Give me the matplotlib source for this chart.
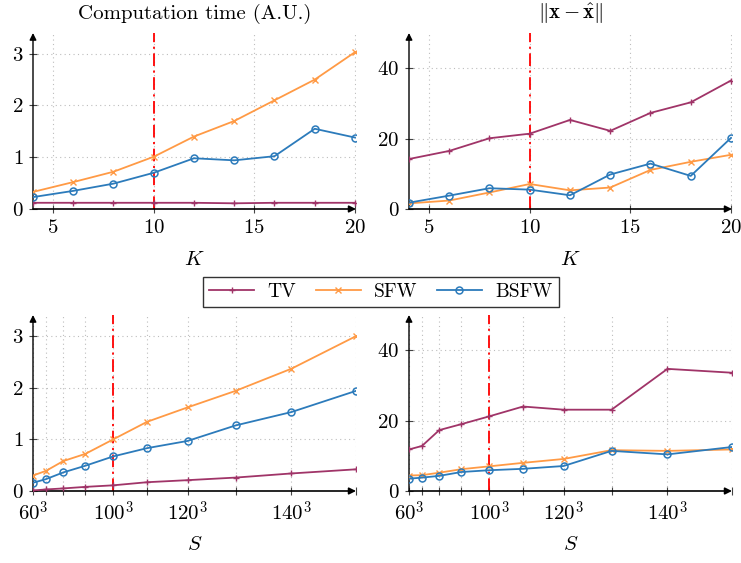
import numpy as np
import matplotlib
matplotlib.use("Agg")
import matplotlib.pyplot as plt

plt.rcParams["font.family"] = "serif"
plt.rcParams["font.serif"] = ["cmr10", "DejaVu Serif"]
plt.rcParams["mathtext.fontset"] = "cm"
plt.rcParams["axes.unicode_minus"] = False
plt.rcParams["axes.formatter.use_mathtext"] = True

# data
K = [4, 6, 8, 10, 12, 14, 16, 18, 20]
time_K_tv = [0.12, 0.12, 0.12, 0.12, 0.12, 0.11, 0.12, 0.12, 0.12]
time_K_sfw = [0.33, 0.52, 0.72, 1.01, 1.40, 1.70, 2.10, 2.50, 3.03]
time_K_bsfw = [0.23, 0.35, 0.49, 0.70, 0.98, 0.94, 1.02, 1.55, 1.38]
err_K_tv = [14.2, 16.5, 20.1, 21.4, 25.3, 22.2, 27.3, 30.3, 36.5]
err_K_sfw = [1.6, 2.4, 4.7, 7.1, 5.3, 6.1, 11.1, 13.4, 15.4]
err_K_bsfw = [1.8, 3.8, 5.9, 5.5, 3.9, 9.8, 12.9, 9.4, 20.2]

n_side = [60, 70, 80, 90, 100, 110, 120, 130, 140, 150]
time_S_tv = [0.01, 0.03, 0.05, 0.08, 0.11, 0.17, 0.21, 0.26, 0.34, 0.42]
time_S_sfw = [0.30, 0.39, 0.58, 0.72, 1.00, 1.34, 1.62, 1.94, 2.37, 3.00]
time_S_bsfw = [0.16, 0.23, 0.36, 0.49, 0.67, 0.83, 0.97, 1.27, 1.53, 1.94]
err_S_tv = [11.8, 12.8, 17.3, 19.0, 21.2, 24.0, 23.1, 23.1, 34.7, 33.6]
err_S_sfw = [4.4, 4.5, 5.2, 6.2, 7.0, 8.0, 9.1, 11.6, 11.4, 11.8]
err_S_bsfw = [3.5, 3.8, 4.3, 5.4, 5.9, 6.3, 7.1, 11.4, 10.4, 12.5]
S_labeled = [60, 100, 120, 140]

K_mark = 10
n_mark = 100

C_TV = "#a03468"
C_SFW = "#ff9a45"
C_BSFW = "#2c7bbb"
W, H = 741, 563
FS = 15

fig = plt.figure(figsize=(W / 100, H / 100), dpi=100)

def frac(x0, x1, ytop, ybot):
    return [x0 / W, 1 - ybot / H, (x1 - x0) / W, (ybot - ytop) / H]

axes = [
    fig.add_axes(frac(33, 356, 33, 209)),
    fig.add_axes(frac(409, 732, 33, 209)),
    fig.add_axes(frac(33, 356, 315, 491)),
    fig.add_axes(frac(409, 732, 315, 491)),
]

S = [n ** 3 for n in n_side]
panels = [
    (K, time_K_tv, time_K_sfw, time_K_bsfw, 3.4, [0, 1, 2, 3]),
    (K, err_K_tv, err_K_sfw, err_K_bsfw, 50, [0, 20, 40]),
    (S, time_S_tv, time_S_sfw, time_S_bsfw, 3.41, [0, 1, 2, 3]),
    (S, err_S_tv, err_S_sfw, err_S_bsfw, 50, [0, 20, 40]),
]

for i, (ax, (x, tv, sfw, bsfw, ytop, yt)) in enumerate(zip(axes, panels)):
    ax.plot(x, tv, color=C_TV, lw=1.3, marker="+", ms=5, mew=1.0, label="TV", zorder=4)
    ax.plot(x, sfw, color=C_SFW, lw=1.3, marker="x", ms=4, mew=1.0, label="SFW", zorder=4)
    ax.plot(x, bsfw, color=C_BSFW, lw=1.3, marker="o", ms=5, mew=1.1,
            mfc="none", label="BSFW", zorder=5)
    ax.set_ylim(0, ytop)
    ax.set_yticks(yt)
    if i < 2:
        ax.set_xlim(4, 20.05)
        ax.set_xticks([5, 10, 15, 20])
        ax.axvline(K_mark, color="red", lw=1.3, ls=(0, (7, 2.5, 1.2, 2.5)), zorder=3)
        ax.set_xlabel("$K$", fontsize=FS, labelpad=10)
    else:
        ax.set_xlim(S[0], S[-1])
        ax.set_xticks(S)
        ax.set_xticklabels([f"${n}^3$" if n in S_labeled else "" for n in n_side])
        ax.axvline(n_mark ** 3, color="red", lw=1.3, ls=(0, (7, 2.5, 1.2, 2.5)), zorder=3)
        ax.set_xlabel("$S$", fontsize=FS, labelpad=8)
    ax.grid(True, color="#bdbdbd", ls=(0, (1, 3)), lw=0.8)
    ax.set_axisbelow(True)
    for s in ["top", "right", "left", "bottom"]:
        ax.spines[s].set_visible(False)
    ax.tick_params(direction="inout", length=6, width=0.8, color="#444444",
                   labelsize=FS, pad=4)
    # arrowed axes
    ax.annotate("", xy=(1, 0), xytext=(0, 0), xycoords="axes fraction",
                arrowprops=dict(arrowstyle="-|>", color="black", lw=1.2,
                                mutation_scale=10, shrinkA=0, shrinkB=0))
    ax.annotate("", xy=(0, 1), xytext=(0, 0), xycoords="axes fraction",
                arrowprops=dict(arrowstyle="-|>", color="black", lw=1.0,
                                mutation_scale=10, shrinkA=0, shrinkB=0))

axes[0].set_title("Computation time (A.U.)", fontsize=FS, pad=10)
axes[1].set_title(r"$\|\mathbf{x} - \hat{\mathbf{x}}\|$", fontsize=FS, pad=10)

handles, labels = axes[0].get_legend_handles_labels()
fig.legend(handles, labels, loc="center", bbox_to_anchor=(381 / W, 1 - 292 / H),
           ncol=3, fontsize=14, frameon=True, fancybox=False, edgecolor="#333333",
           framealpha=1, handlelength=2.3, columnspacing=1.0, borderpad=0.3,
           handletextpad=0.7)

fig.savefig("out.png", dpi=100)
